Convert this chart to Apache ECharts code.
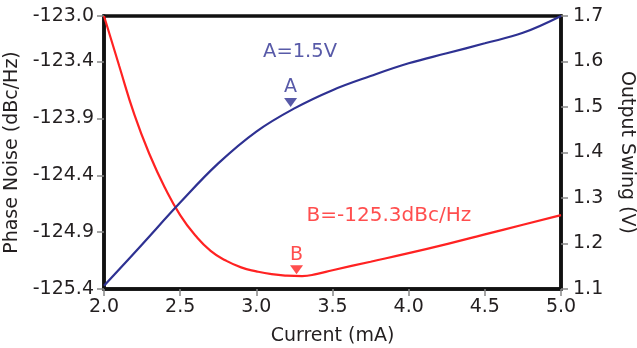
<!DOCTYPE html>
<html>
<head>
<meta charset="utf-8">
<script src="https://cdn.jsdelivr.net/npm/echarts@6/dist/echarts.min.js"></script>
<style>html,body{margin:0;padding:0;background:#fff}#c{width:637px;height:348px}</style>
</head>
<body>
<div id="c"></div>
<script>
const currentX = [2.0,2.1,2.2,2.3,2.4,2.5,2.6,2.7,2.8,2.9,3.0,3.1,3.2,3.3,3.4,3.5,3.75,4.0,4.25,4.5,4.75,5.0];
const phaseNoise = [-123.0,-123.44,-123.87,-124.22,-124.51,-124.75,-124.93,-125.065,-125.15,-125.21,-125.245,-125.27,-125.283,-125.287,-125.267,-125.235,-125.16,-125.085,-125.005,-124.92,-124.835,-124.75];
const swingX = [2.0,2.25,2.5,2.75,3.0,3.25,3.5,3.75,4.0,4.25,4.5,4.75,5.0];
const outputSwing = [1.107,1.198,1.29,1.376,1.446,1.497,1.537,1.568,1.596,1.618,1.64,1.663,1.70];
const leftTicks = [-125.4,-124.9,-124.4,-123.9,-123.4,-123.0];
const markerA = [3.225, 1.5];
const markerB = [3.264, -125.27];
const textA = {x: 3.287, y: 1.621, label: 'A=1.5V'};
const textB = {x: 3.87, y: -124.76, label: 'B=-125.3dBc/Hz'};

const blue = '#2e3192';
const red = '#ff2222';
const font = 'DejaVu Sans, sans-serif';
const lblColor = '#231f20';
const tickStyle = {show: true, length: 7, lineStyle: {color: '#888', width: 1.5}};
const lineStyle = {show: true, lineStyle: {color: '#111', width: 3.5}};

const chart = echarts.init(document.getElementById('c'), null, {renderer: 'canvas'});
chart.setOption({
  animation: false,
  backgroundColor: '#fff',
  grid: {left: 104, right: 76, top: 16, bottom: 59, outerBoundsMode: 'none', containLabel: false, show: true, borderColor: '#111', borderWidth: 3.5, backgroundColor: 'transparent'},
  xAxis: {
    type: 'value', min: 2, max: 5, interval: 0.5,
    name: 'Current (mA)', nameLocation: 'middle', nameGap: 38,
    nameTextStyle: {fontFamily: font, fontSize: 19, color: lblColor},
    axisLine: lineStyle, axisTick: tickStyle, splitLine: {show: false},
    axisLabel: {fontFamily: font, fontSize: 19, color: lblColor, margin: 9, formatter: v => v.toFixed(1)}
  },
  yAxis: [{
    type: 'value', min: -125.4, max: -123.0, position: 'left',
    name: 'Phase Noise (dBc/Hz)', nameLocation: 'middle', nameGap: 73,
    nameTextStyle: {fontFamily: font, fontSize: 19, color: lblColor},
    axisLine: lineStyle, splitLine: {show: false},
    axisTick: Object.assign({customValues: leftTicks}, tickStyle),
    axisLabel: {customValues: leftTicks, fontFamily: font, fontSize: 19, color: lblColor, margin: 10, formatter: v => v.toFixed(1)}
  }, {
    type: 'value', min: 1.1, max: 1.7, interval: 0.1, position: 'right',
    name: 'Output Swing (V)', nameLocation: 'middle', nameGap: 56, nameRotate: -90,
    nameTextStyle: {fontFamily: font, fontSize: 19, color: lblColor},
    axisLine: lineStyle, splitLine: {show: false}, axisTick: tickStyle,
    axisLabel: {fontFamily: font, fontSize: 19, color: lblColor, margin: 12, formatter: v => v.toFixed(1)}
  }],
  series: [{
    type: 'line', yAxisIndex: 0, data: currentX.map((x, i) => [x, phaseNoise[i]]),
    smooth: 0.5, showSymbol: false, lineStyle: {color: red, width: 2.2}, z: 3
  }, {
    type: 'line', yAxisIndex: 1, data: swingX.map((x, i) => [x, outputSwing[i]]),
    smooth: 0.4, showSymbol: false, lineStyle: {color: blue, width: 2.2}, z: 3
  }, {
    type: 'scatter', yAxisIndex: 1, data: [markerA], symbol: 'triangle', symbolRotate: 180,
    symbolSize: [13, 9], symbolOffset: [0, -4.5], itemStyle: {color: blue}, z: 4,
    label: {show: true, position: 'top', distance: 1, formatter: 'A', fontFamily: font, fontSize: 19, color: blue}
  }, {
    type: 'scatter', yAxisIndex: 0, data: [markerB], symbol: 'triangle', symbolRotate: 180,
    symbolSize: [13, 9], symbolOffset: [0, -4.5], itemStyle: {color: red}, z: 4,
    label: {show: true, position: 'top', distance: 1, formatter: 'B', fontFamily: font, fontSize: 19, color: red}
  }, {
    type: 'scatter', yAxisIndex: 1, data: [[textA.x, textA.y]], symbolSize: 0, z: 4,
    label: {show: true, position: 'inside', formatter: textA.label, fontFamily: font, fontSize: 19.5, color: blue}
  }, {
    type: 'scatter', yAxisIndex: 0, data: [[textB.x, textB.y]], symbolSize: 0, z: 4,
    label: {show: true, position: 'inside', formatter: textB.label, fontFamily: font, fontSize: 20, color: red}
  }]
});
</script>
</body>
</html>
